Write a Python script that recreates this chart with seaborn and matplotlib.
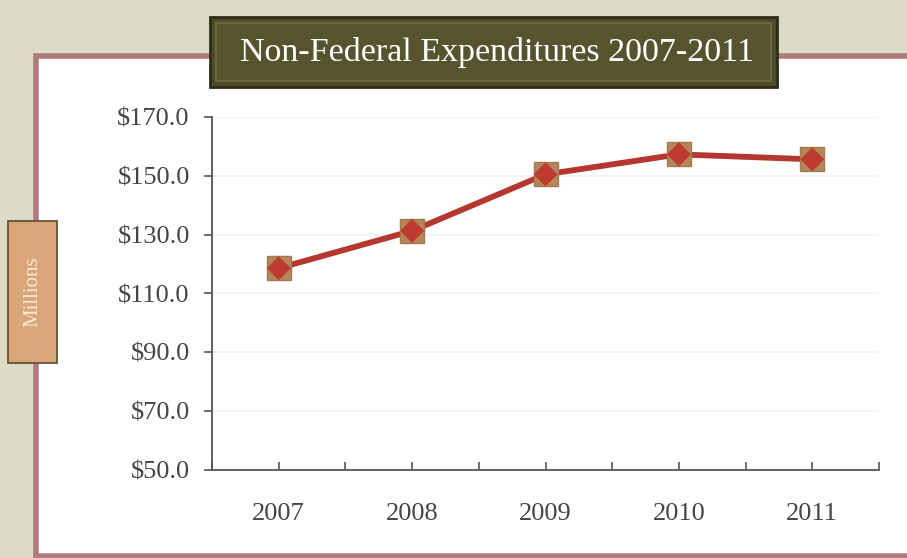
import matplotlib
matplotlib.use("Agg")
import matplotlib.pyplot as plt
import seaborn as sns
import pandas as pd
from matplotlib.patches import Rectangle, FancyBboxPatch
from matplotlib.ticker import FixedLocator

years = ["2007", "2008", "2009", "2010", "2011"]
expenditures = [118.6, 131.3, 150.5, 157.3, 155.6]
y_ticks = [50, 70, 90, 110, 130, 150, 170]
title_text = "Non-Federal Expenditures 2007-2011"
y_label = "Millions"

sns.set_theme(style="white")
plt.rcParams["font.family"] = ["Liberation Serif", "DejaVu Serif"]

W, H = 907, 558
fig = plt.figure(figsize=(W / 100, H / 100), dpi=100)
fig.patch.set_facecolor("#dcdcc6")

def fx(x):
    return x / W

def fy(y):
    return 1 - y / H

# white panel with reddish border
fig.patches.append(Rectangle((fx(36), fy(556)), fx(W + 10) - fx(36), fy(56) - fy(556),
                             transform=fig.transFigure, facecolor="white",
                             edgecolor="#b07a78", linewidth=4, zorder=-5))

ax = fig.add_axes([fx(212), fy(470), fx(879) - fx(212), fy(117) - fy(470)])
ax.set_zorder(2)
ax.set_facecolor("white")

df = pd.DataFrame({"Year": years, "Value": expenditures})
sns.lineplot(data=df, x="Year", y="Value", ax=ax, color="#b5372f", linewidth=4.2,
             marker="s", markersize=17, markerfacecolor="#b3875a",
             markeredgecolor="#a37a4c", markeredgewidth=1, zorder=3)
sns.scatterplot(data=df, x="Year", y="Value", ax=ax, marker="D", s=150,
                color="#bf3a2f", edgecolor="none", zorder=4)

ax.set_xlim(-0.5, len(years) - 0.5)
ax.set_ylim(50, 170)
ax.set_yticks(y_ticks)
ax.set_yticklabels([f"${v:.1f}" for v in y_ticks])
ax.set_xticks(range(len(years)))
ax.set_xticklabels(years)
ax.xaxis.set_minor_locator(FixedLocator([i - 0.5 for i in range(len(years) + 1)]))
ax.set_xlabel("")
ax.set_ylabel("")

for s in ["top", "right"]:
    ax.spines[s].set_visible(False)
for s in ["left", "bottom"]:
    ax.spines[s].set_color("#555555")
    ax.spines[s].set_linewidth(1.3)

ax.tick_params(axis="y", which="major", direction="out", length=6, width=1.2,
               color="#555555", left=True, labelsize=19, labelcolor="#454545", pad=10)
ax.tick_params(axis="x", which="both", direction="in", length=6, width=1.2,
               color="#555555", bottom=True, labelsize=19, labelcolor="#454545", pad=24)
ax.grid(axis="y", color="#f2f2f2", linewidth=1.2)
ax.set_axisbelow(True)

# Title box
tb = FancyBboxPatch((fx(210), fy(87)), fx(777) - fx(210), fy(17) - fy(87),
                    boxstyle="square,pad=0", transform=fig.transFigure,
                    facecolor="#4e4b2b", edgecolor="#2e2c18", linewidth=2, zorder=5)
fig.patches.append(tb)
fig.patches.append(Rectangle((fx(216), fy(81)), fx(771) - fx(216), fy(23) - fy(81),
                             transform=fig.transFigure, facecolor="#56532f",
                             edgecolor="#6b6840", linewidth=1.5, zorder=6))
fig.text(fx(497), fy(53), title_text, ha="center", va="center", color="white",
         fontsize=24.5, zorder=7)

# Millions box
fig.patches.append(Rectangle((fx(8), fy(363)), fx(57) - fx(8), fy(221) - fy(363),
                             transform=fig.transFigure, facecolor="#d9a67a",
                             edgecolor="#5a4a30", linewidth=1.2, zorder=5))
fig.text(fx(33), fy(292), y_label, ha="center", va="center", rotation=90,
         color="#f6ead0", fontsize=15, zorder=7)

fig.savefig("out.png", dpi=100, facecolor=fig.get_facecolor())
